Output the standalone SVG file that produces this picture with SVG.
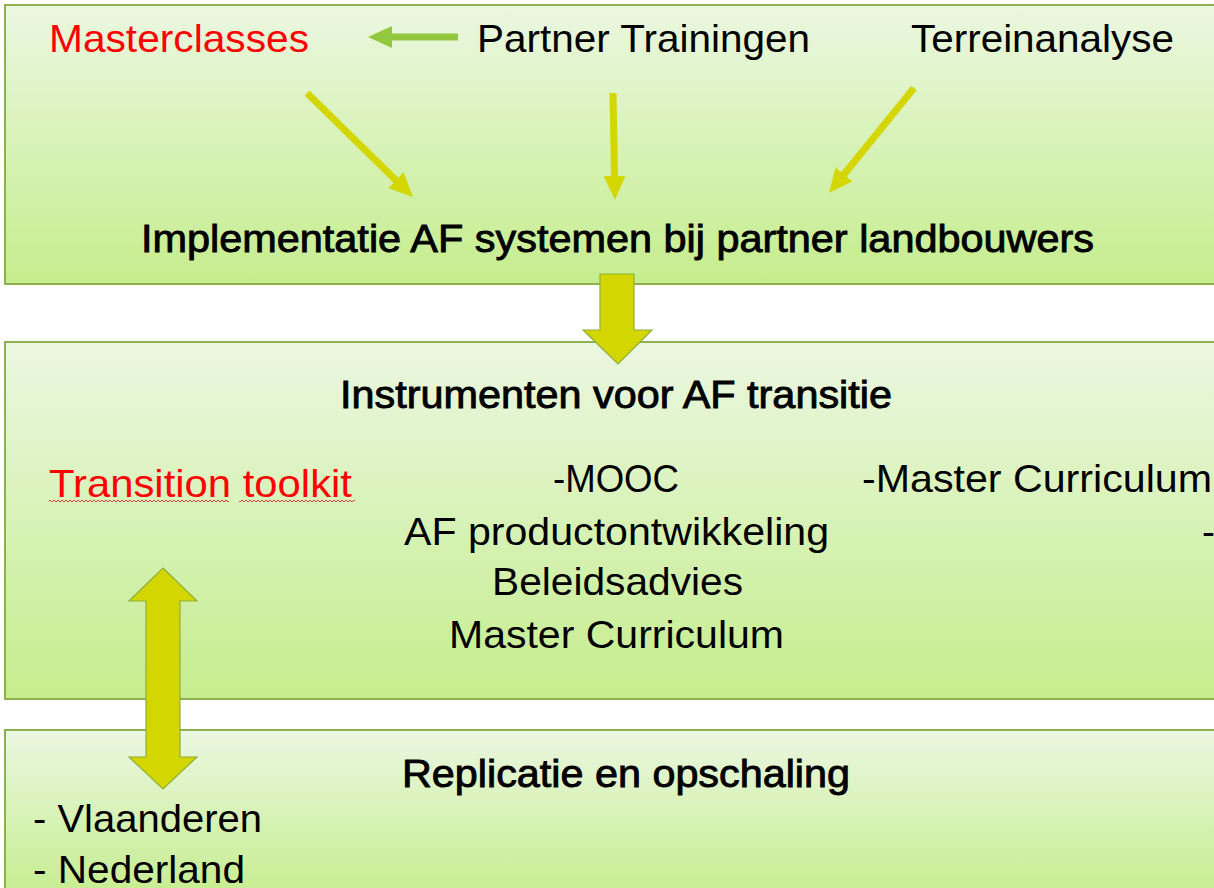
<svg xmlns="http://www.w3.org/2000/svg" width="1214" height="888" viewBox="0 0 1214 888">
<style>
.box{stroke:#8db14c;stroke-width:2;fill:url(#g)}
.t{font-family:"Liberation Sans",Arial,sans-serif;font-size:39px;fill:#000}
.b{stroke:#000;stroke-width:0.9}
.red{fill:#ff0000}
.y{stroke:#d4d600;stroke-width:7;fill:none}
.gr{stroke:#92c73e;stroke-width:7;fill:none}
.big{fill:#d4d600;stroke:#8fae3a;stroke-width:1.2}
</style>
<defs>
<linearGradient id="g" x1="0" y1="0" x2="0" y2="1">
<stop offset="0" stop-color="#ebf7e1"/>
<stop offset="1" stop-color="#c5ed8d"/>
</linearGradient>
<marker id="hy" markerUnits="userSpaceOnUse" markerWidth="26" markerHeight="24" refX="9" refY="11" orient="auto">
<path d="M0,0 L24,11 L0,22 z" fill="#d4d600"/>
</marker>
<marker id="hg" markerUnits="userSpaceOnUse" markerWidth="26" markerHeight="24" refX="9" refY="11" orient="auto">
<path d="M0,0 L24,11 L0,22 z" fill="#92c73e"/>
</marker>
<pattern id="wave" patternUnits="userSpaceOnUse" x="0" y="499" width="4" height="4">
<path d="M0,3 L2,1 L4,3" stroke="#e03030" stroke-width="0.9" fill="none"/>
</pattern>
</defs>
<rect width="1214" height="888" fill="#ffffff"/>

<g id="box-implementatie">
<rect class="box" x="5" y="5" width="1220" height="279"/>
<text class="t red" x="49" y="52" textLength="260" lengthAdjust="spacingAndGlyphs">Masterclasses</text>
<text class="t" x="477" y="52" textLength="333" lengthAdjust="spacingAndGlyphs">Partner Trainingen</text>
<text class="t" x="911" y="52" textLength="263" lengthAdjust="spacingAndGlyphs">Terreinanalyse</text>
<text class="t b" x="141" y="252" textLength="953" lengthAdjust="spacingAndGlyphs">Implementatie AF systemen bij partner landbouwers</text>
</g>

<g id="box-instrumenten">
<rect class="box" x="5" y="342" width="1220" height="357"/>
<text class="t b" x="340" y="408" textLength="552" lengthAdjust="spacingAndGlyphs">Instrumenten voor AF transitie</text>
<text class="t red" x="49" y="497" textLength="303" lengthAdjust="spacingAndGlyphs">Transition toolkit</text>
<rect x="49" y="499" width="180" height="4" fill="url(#wave)"/>
<rect x="239" y="499" width="116" height="4" fill="url(#wave)"/>
<text class="t" x="553" y="492" textLength="126" lengthAdjust="spacingAndGlyphs">-MOOC</text>
<text class="t" x="862" y="492" textLength="350" lengthAdjust="spacingAndGlyphs">-Master Curriculum</text>
<text class="t" x="404" y="545" textLength="425" lengthAdjust="spacingAndGlyphs">AF productontwikkeling</text>
<text class="t" x="1202" y="545">-</text>
<text class="t" x="492" y="595" textLength="251" lengthAdjust="spacingAndGlyphs">Beleidsadvies</text>
<text class="t" x="449" y="648" textLength="335" lengthAdjust="spacingAndGlyphs">Master Curriculum</text>
</g>

<g id="box-replicatie">
<rect class="box" x="5" y="730" width="1220" height="170"/>
<text class="t b" x="402" y="787" textLength="448" lengthAdjust="spacingAndGlyphs">Replicatie en opschaling</text>
<text class="t" x="33" y="832" textLength="229" lengthAdjust="spacingAndGlyphs">- Vlaanderen</text>
<text class="t" x="33" y="883" textLength="212" lengthAdjust="spacingAndGlyphs">- Nederland</text>
</g>

<g id="connectors">
<line class="gr" x1="458" y1="37" x2="383" y2="37" marker-end="url(#hg)"/>
<line class="y" x1="307" y1="93" x2="402.3" y2="186.5" marker-end="url(#hy)"/>
<line class="y" x1="613" y1="93" x2="614.7" y2="185" marker-end="url(#hy)"/>
<line class="y" x1="914" y1="88" x2="838.4" y2="181.3" marker-end="url(#hy)"/>
<polygon class="big" points="600,274 634,274 634,330 652,330 618,364 583,330 600,330"/>
<polygon class="big" points="163,568 197,601 180,601 180,757 197,757 163,789 129,757 146,757 146,601 129,601"/>
</g>
</svg>
